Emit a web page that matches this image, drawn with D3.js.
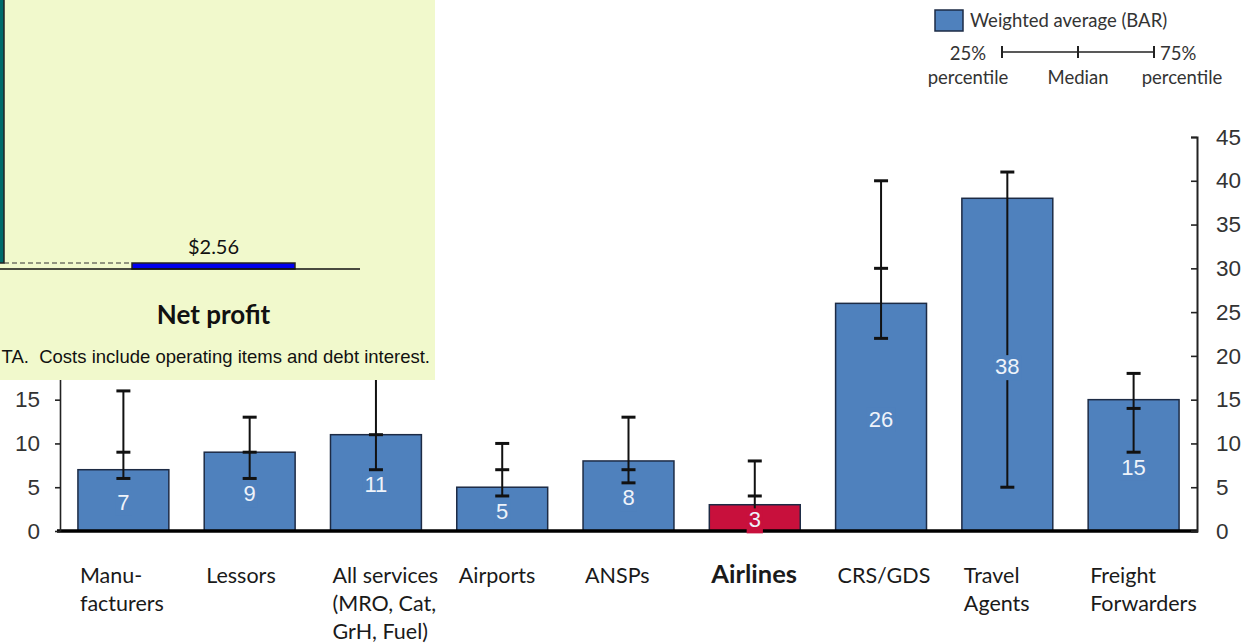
<!DOCTYPE html>
<html>
<head>
<meta charset="utf-8">
<script src="https://cdn.jsdelivr.net/npm/d3@7/dist/d3.min.js"></script>
<style>
  html, body { margin: 0; padding: 0; background: #fff; }
  svg { display: block; }
  .pre { white-space: pre; }
</style>
</head>
<body>
<svg id="chart" width="1257" height="644"></svg>
<script>
// ---------- data ----------
const categories = ["Manufacturers", "Lessors", "All services", "Airports", "ANSPs", "Airlines", "CRS/GDS", "Travel Agents", "Freight Forwarders"];
const categoryLines = [["Manu-", "facturers"], ["Lessors"], ["All services", "(MRO, Cat,", "GrH, Fuel)"], ["Airports"], ["ANSPs"], ["Airlines"], ["CRS/GDS"], ["Travel", "Agents"], ["Freight", "Forwarders"]];
const weightedAverage = [7, 9, 11, 5, 8, 3, 26, 38, 15];
const percentile25 = [6, 6, 7, 4, 5.5, 0, 22, 5, 9];
const medianValues = [9, 9, 11, 7, 7, 4, 30, null, 14];
const percentile75 = [16, 13, 19, 10, 13, 8, 40, 41, 18];
const highlighted = "Airlines";
const yTicks = [0, 5, 10, 15, 20, 25, 30, 35, 40, 45];

// inset (overlapping waterfall fragment)
const insetCategories = ["Costs", "Net profit"];
const insetFrom = [2.56, 0];
const insetTo = [200, 2.56];
const insetLabel = "$2.56";
const insetNote = "TA.  Costs include operating items and debt interest.";

// ---------- drawing ----------
const svg = d3.select("#chart");
const BLUE = "#4f81bd", RED = "#c8103c", STROKE = "#1d2b45";
const PANEL_W = 435, PANEL_H = 380;

const x = d3.scaleBand().domain(categories).range([60, 1197]).paddingInner(0.28).paddingOuter(0.142);
const y = d3.scaleLinear().domain([0, 45]).range([531, 137]);

const fillOf = c => c === highlighted ? RED : BLUE;

// bars
svg.append("g").selectAll("rect").data(categories).join("rect")
  .attr("x", d => x(d)).attr("width", x.bandwidth())
  .attr("y", (d, i) => y(weightedAverage[i]))
  .attr("height", (d, i) => y(0) - y(weightedAverage[i]))
  .attr("fill", fillOf).attr("stroke", STROKE).attr("stroke-width", 1.5);

// error bars
const eg = svg.append("g").attr("stroke", "#111").attr("fill", "none");
categories.forEach((c, i) => {
  const cx = x(c) + x.bandwidth() / 2;
  eg.append("line").attr("x1", cx).attr("x2", cx)
    .attr("y1", y(percentile25[i])).attr("y2", y(percentile75[i])).attr("stroke-width", 2);
  [percentile25[i], medianValues[i], percentile75[i]].forEach(v => {
    if (v === null || v === 0) return;
    eg.append("line").attr("x1", cx - 7).attr("x2", cx + 7)
      .attr("y1", y(v)).attr("y2", y(v)).attr("stroke-width", 3);
  });
});

// baseline
svg.append("line").attr("x1", 57).attr("x2", 1198).attr("y1", y(0)).attr("y2", y(0))
  .attr("stroke", "#000").attr("stroke-width", 3.5);

// value labels with bar-coloured backing
const lg = svg.append("g");
categories.forEach((c, i) => {
  const cx = x(c) + x.bandwidth() / 2;
  const cy = (y(0) + y(weightedAverage[i])) / 2 + 2;
  const t = lg.append("text").attr("x", cx).attr("y", cy)
    .attr("text-anchor", "middle").attr("dominant-baseline", "central")
    .attr("font-family", "Liberation Sans, Arial, sans-serif").attr("font-size", 22)
    .attr("fill", "#eef3fa").text(weightedAverage[i]);
  const bb = t.node().getBBox();
  lg.insert("rect", () => t.node())
    .attr("x", bb.x - 2).attr("y", bb.y + 1).attr("width", bb.width + 4).attr("height", bb.height)
    .attr("fill", fillOf(c));
});

// axes
const axisFont = g => g.selectAll("text").attr("font-family", "Liberation Sans, Arial, sans-serif")
  .attr("font-size", 22.5).attr("fill", "#333");
// left-axis ticks above the overlapping panel are hidden in the reference
const leftTicks = yTicks.filter(v => y(v) > PANEL_H + 10);
const left = svg.append("g").attr("transform", "translate(60,0)")
  .call(d3.axisLeft(y).tickValues(leftTicks).tickSizeInner(5).tickSizeOuter(0).tickPadding(15));
left.call(axisFont); left.selectAll("path,line").attr("stroke", "#222").attr("stroke-width", 1.6);

const right = svg.append("g").attr("transform", "translate(1197,0)")
  .call(d3.axisRight(y).tickValues(yTicks).tickSizeInner(-6).tickSizeOuter(-6).tickPadding(19));
right.call(axisFont); right.selectAll("path,line").attr("stroke", "#222").attr("stroke-width", 1.6);
right.select(".domain").attr("stroke-width", 2);

// category labels
const cg = svg.append("g");
categories.forEach((c, i) => {
  const bold = c === highlighted;
  const t = cg.append("text").attr("x", x(c) + 2).attr("y", 583)
    .attr("font-family", "Lato, Carlito, sans-serif").attr("font-size", bold ? 25.5 : 21.5)
    .attr("font-weight", bold ? "bold" : "normal").attr("fill", "#1a1a1a");
  categoryLines[i].forEach((ln, j) => t.append("tspan").attr("x", x(c) + 2).attr("dy", j ? 28 : 0).text(ln));
});

// legend
const lgd = svg.append("g").attr("font-family", "Lato, Carlito, sans-serif").attr("fill", "#333");
lgd.append("rect").attr("x", 935).attr("y", 10).attr("width", 28).attr("height", 21)
  .attr("fill", BLUE).attr("stroke", STROKE).attr("stroke-width", 1.5);
lgd.append("text").attr("x", 970).attr("y", 27).attr("font-size", 18.5).text("Weighted average (BAR)");
const lx = d3.scalePoint().domain(["25%", "Median", "75%"]).range([1002, 1154]);
lgd.append("line").attr("x1", lx("25%")).attr("x2", lx("75%")).attr("y1", 52).attr("y2", 52)
  .attr("stroke", "#222").attr("stroke-width", 1.5);
lx.domain().forEach(k => lgd.append("line").attr("x1", lx(k)).attr("x2", lx(k)).attr("y1", 46).attr("y2", 58)
  .attr("stroke", "#222").attr("stroke-width", 2));
lgd.append("text").attr("x", 986).attr("y", 60).attr("text-anchor", "end").attr("font-size", 18.5).text("25%");
lgd.append("text").attr("x", 1160).attr("y", 60).attr("font-size", 18.5).text("75%");
lgd.append("text").attr("x", 968).attr("y", 84).attr("text-anchor", "middle").attr("font-size", 18.5).text("percentile");
lgd.append("text").attr("x", lx("Median")).attr("y", 84).attr("text-anchor", "middle").attr("font-size", 18.5).text("Median");
lgd.append("text").attr("x", 1182).attr("y", 84).attr("text-anchor", "middle").attr("font-size", 18.5).text("percentile");

// ---------- overlapping inset panel ----------
const panel = svg.append("g");
panel.append("rect").attr("x", 0).attr("y", 0).attr("width", PANEL_W).attr("height", PANEL_H).attr("fill", "#f1f9cc");
const ix = d3.scalePoint().domain(insetCategories).range([-77.5, 213.5]);
const iy = d3.scaleLinear().domain([0, 100]).range([269, 35]);
const ibw = 163;
panel.selectAll("rect.ib").data(insetCategories).join("rect").attr("class", "ib")
  .attr("x", d => ix(d) - ibw / 2).attr("width", ibw)
  .attr("y", (d, i) => iy(insetTo[i])).attr("height", (d, i) => iy(insetFrom[i]) - iy(insetTo[i]))
  .attr("fill", (d, i) => i === 0 ? "#006b6b" : "#0000ee")
  .attr("stroke", "#222").attr("stroke-width", 1.5);
panel.append("line").attr("x1", ix("Costs") + ibw / 2).attr("x2", ix("Net profit") - ibw / 2)
  .attr("y1", iy(insetFrom[0])).attr("y2", iy(insetFrom[0]))
  .attr("stroke", "#333").attr("stroke-width", 1).attr("stroke-dasharray", "5,3");
panel.append("line").attr("x1", 0).attr("x2", 360).attr("y1", iy(0)).attr("y2", iy(0))
  .attr("stroke", "#111").attr("stroke-width", 1.5);
panel.append("text").attr("x", ix("Net profit")).attr("y", iy(insetTo[1]) - 9)
  .attr("text-anchor", "middle").attr("font-family", "Lato, Carlito, sans-serif").attr("font-size", 20)
  .attr("fill", "#111").text(insetLabel);
panel.append("text").attr("x", ix("Net profit")).attr("y", 324)
  .attr("text-anchor", "middle").attr("font-family", "Lato, Carlito, sans-serif").attr("font-size", 26)
  .attr("font-weight", "bold").attr("fill", "#111").text("Net profit");
panel.append("text").attr("class", "pre").attr("x", 430).attr("y", 363).attr("text-anchor", "end")
  .attr("font-family", "Liberation Sans, Arial, sans-serif").attr("font-size", 18.5)
  .attr("fill", "#111").text(insetNote);
</script>
</body>
</html>
